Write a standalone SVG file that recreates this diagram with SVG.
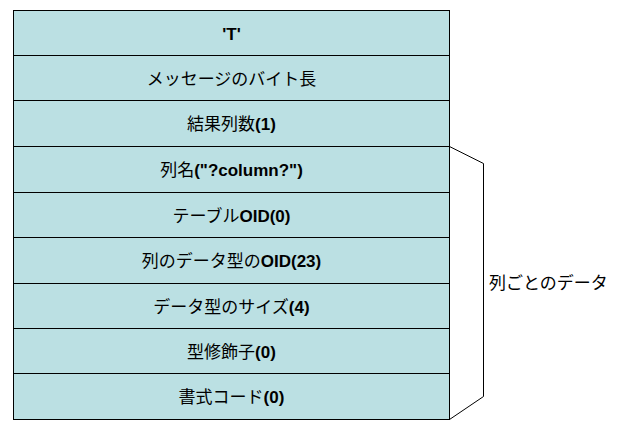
<svg xmlns="http://www.w3.org/2000/svg" width="620" height="434" viewBox="0 0 620 434">
<style>
.row rect{fill:#BBE0E3;stroke:#000;stroke-width:1}
.row text,.lbl{font-family:"Noto Sans CJK JP","Liberation Sans",sans-serif;font-size:17px;fill:#000}
.row text{text-anchor:middle}
.a{font-family:"Liberation Sans",Arial,sans-serif;font-weight:bold}
.conn path{fill:none;stroke:#000;stroke-width:1}
</style>
<rect width="620" height="434" fill="#fff"/>
<g id="row1" class="row"><rect x="13.5" y="10.5" width="436" height="45"/><text x="231.5" y="39.5"><tspan class="a">'T'</tspan></text></g>
<g id="row2" class="row"><rect x="13.5" y="55.5" width="436" height="45"/><text x="231.5" y="84.5">メッセージのバイト長</text></g>
<g id="row3" class="row"><rect x="13.5" y="100.5" width="436" height="46"/><text x="231.5" y="130">結果列数<tspan class="a">(1)</tspan></text></g>
<g id="row4" class="row"><rect x="13.5" y="146.5" width="436" height="46"/><text x="231.5" y="176">列名<tspan class="a">("?column?")</tspan></text></g>
<g id="row5" class="row"><rect x="13.5" y="192.5" width="436" height="45"/><text x="231.5" y="221.5">テーブル<tspan class="a">OID(0)</tspan></text></g>
<g id="row6" class="row"><rect x="13.5" y="237.5" width="436" height="46"/><text x="231.5" y="267">列のデータ型の<tspan class="a">OID(23)</tspan></text></g>
<g id="row7" class="row"><rect x="13.5" y="283.5" width="436" height="45"/><text x="231.5" y="312.5">データ型のサイズ<tspan class="a">(4)</tspan></text></g>
<g id="row8" class="row"><rect x="13.5" y="328.5" width="436" height="45"/><text x="231.5" y="357.5">型修飾子<tspan class="a">(0)</tspan></text></g>
<g id="row9" class="row"><rect x="13.5" y="373.5" width="436" height="46"/><text x="231.5" y="403">書式コード<tspan class="a">(0)</tspan></text></g>
<g id="connectors" class="conn"><path d="M449.5,146.5 L483.5,163.5 L483.5,396.5 L449.5,419.5"/></g>
<g id="label"><text class="lbl" x="489" y="289">列ごとのデータ</text></g>
</svg>
